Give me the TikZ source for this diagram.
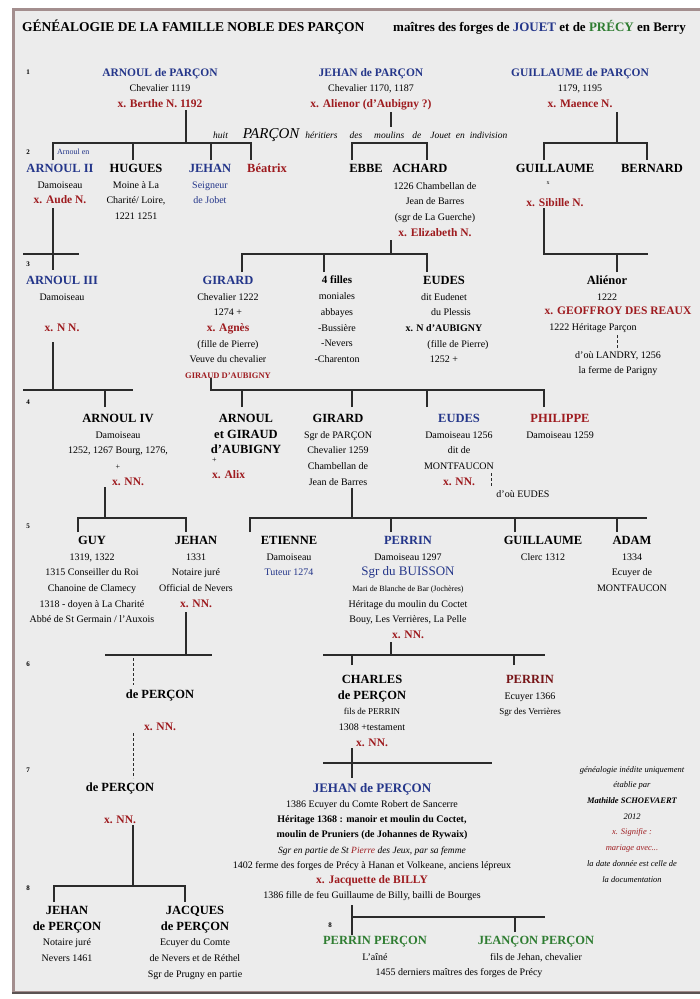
\documentclass[tikz,border=0pt]{standalone}
\usepackage{fontspec}
\setmainfont{Liberation Serif}
\definecolor{nblue}{HTML}{24368A}
\definecolor{nred}{HTML}{9E1B1F}
\definecolor{ngreen}{HTML}{2F7D32}
\definecolor{framec}{HTML}{A38E8E}
\definecolor{bgc}{HTML}{ECECEC}
\definecolor{lnc}{HTML}{2B2B2B}
\newcommand{\nm}[1]{{\fontsize{12.5}{15.7}\selectfont\bfseries #1}}
\newcommand{\nmo}[1]{{\color{nblue}\fontsize{11.5}{15.7}\selectfont\bfseries #1}}
\newcommand{\nmb}[1]{{\color{nblue}\nm{#1}}}
\newcommand{\nmr}[1]{{\color{nred}\nm{#1}}}
\newcommand{\spouse}[1]{{\color{nred}\fontsize{11.5}{15.7}\selectfont\bfseries #1}}
\newcommand{\fs}[2]{{\fontsize{#1}{15.7}\selectfont #2}}
\begin{document}
\begin{tikzpicture}[x=1pt,y=-1pt,
  pn/.style={align=center, anchor=north, inner sep=0pt, font=\fontsize{10}{15.7}\selectfont},
  gl/.style={inner sep=0pt, font=\fontsize{7}{8}\selectfont\bfseries},
  tr/.style={draw=lnc, line width=1.3pt},
  dl/.style={draw=lnc, line width=1pt, dash pattern=on 3pt off 2pt}]
\useasboundingbox (0,0) rectangle (700,999);
\fill[white] (0,0) rectangle (700,999);
\filldraw[fill=bgc, draw=framec, line width=3pt] (13,9) rectangle (712,992);
\draw[draw=lnc!60!framec, line width=2pt] (12,993) -- (712,993);

% header
\node[anchor=west, inner sep=0pt, font=\fontsize{13.5}{15}\selectfont\bfseries] (title) at (22,27) {GÉNÉALOGIE DE LA FAMILLE NOBLE DES PARÇON};
\node[anchor=west, inner sep=0pt, font=\fontsize{13}{15}\selectfont\bfseries] (subtitle) at (393,27) {maîtres des forges de {\color{nblue}JOUET} et de {\color{ngreen}PRÉCY} en Berry};

% generation labels
\node[gl] (gen1) at (28,72) {1};
\node[gl] (gen2) at (28,152) {2};
\node[gl] (gen3) at (28,264) {3};
\node[gl] (gen4) at (28,402) {4};
\node[gl] (gen5) at (28,526) {5};
\node[gl] (gen6) at (28,664) {6};
\node[gl] (gen7) at (28,770) {7};
\node[gl] (gen8) at (28,888) {8};
\node[gl] (gen8b) at (330,925) {8};

% generation 1
\node[pn] (a1) at (160,68) {\nmo{ARNOUL de PARÇON}\\Chevalier 1119\\\spouse{x. Berthe N. 1192}};
\node[pn] (j1) at (371,68) {\nmo{JEHAN de PARÇON}\\Chevalier 1170, 1187\\\spouse{x. Alienor (d'Aubigny ?)}};
\node[pn] (g1) at (580,68) {\nmo{GUILLAUME de PARÇON}\\1179, 1195\\\spouse{x. Maence N.}};

\node[anchor=west, inner sep=0pt, font=\fontsize{9.5}{12}\selectfont\itshape] (hoirs) at (213,135)
  {huit\hspace{15pt}{\fontsize{15}{15}\selectfont PARÇON}\hspace{6pt}héritiers\hspace{12pt}des\hspace{12pt}moulins\hspace{8pt}de\hspace{9pt}Jouet\hspace{5pt}en\hspace{5pt}indivision};
\node[anchor=west, inner sep=0pt, font=\fontsize{8}{9}\selectfont, text=nblue] (arnen) at (57,152) {Arnoul en};

% generation 2
\node[pn] (a2) at (60,164) {\nmb{ARNOUL II}\\Damoiseau\\\spouse{x. Aude N.}};
\node[pn] (hugues) at (136,164) {\nm{HUGUES}\\Moine à La\\Charité/ Loire,\\1221 1251};
\node[pn, text=nblue] (jehan2) at (210,164) {\nm{JEHAN}\\Seigneur\\de Jobet};
\node[pn] (beatrix) at (267,164) {\nmr{Béatrix}};
\node[pn] (ebbe) at (366,164) {\nm{EBBE}};
\node[pn] (achard) at (420,164) {\nm{ACHARD}};
\node[pn] (achardd) at (435,182) {1226 Chambellan de\\Jean de Barres\\(sgr de La Guerche)\\\spouse{x. Elizabeth N.}};
\node[pn] (guil2) at (555,164) {\nm{GUILLAUME}};
\node[inner sep=0pt, font=\fontsize{6}{7}\selectfont] (guilx) at (548,183) {x};
\node[pn] (sibille) at (555,198) {\spouse{x. Sibille N.}};
\node[pn] (bernard) at (652,164) {\nm{BERNARD}};

% generation 3
\node[pn] (a3) at (62,276) {\nmb{ARNOUL III}\\Damoiseau\\[15.7pt]\spouse{x. N N.}};
\node[pn] (girard3) at (228,276) {\nmb{GIRARD}\\Chevalier 1222\\1274 +\\\spouse{x. Agnès}\\(fille de Pierre)\\Veuve du chevalier\\{\color{nred}\fontsize{8.5}{15.7}\selectfont\bfseries GIRAUD D'AUBIGNY}};
\node[pn] (filles) at (337,276) {\fs{11}{\bfseries 4 filles}\\moniales\\abbayes\\-Bussière\\-Nevers\\-Charenton};
\node[pn] (eudes3) at (444,276) {\nm{EUDES}\\dit Eudenet\\\hspace{14pt}du Plessis\\{\bfseries x. N d'AUBIGNY}\\\hspace{28pt}(fille de Pierre)\\1252 +};
\node[pn] (alienor) at (607,276) {\nm{Aliénor}\\1222};
\node[pn] (geoffroy) at (618,307) {\spouse{x. GEOFFROY DES REAUX}};
\node[pn] (heritp) at (593,323) {1222 Héritage Parçon};
\node[pn] (landry) at (618,351) {d'où LANDRY, 1256\\la ferme de Parigny};

% generation 4
\node[pn] (arnoul4) at (118,414) {\nm{ARNOUL IV}\\Damoiseau\\1252, 1267 Bourg, 1276,\\\fs{8}{+}\\\hspace{20pt}\spouse{x. NN.}};
\node[pn] (arnoul4b) at (246,414) {\nm{ARNOUL}\\\nm{et GIRAUD}\\\nm{d'AUBIGNY}};
\node[align=left, anchor=north west, inner sep=0pt, font=\fontsize{10}{15.7}\selectfont] (alix) at (212,458) {\fs{8}{+}\\\spouse{x. Alix}};
\node[pn] (girard4) at (338,414) {\nm{GIRARD}\\Sgr de PARÇON\\Chevalier 1259\\Chambellan de\\Jean de Barres};
\node[pn] (eudes4) at (459,414) {\nmb{EUDES}\\Damoiseau 1256\\dit de\\MONTFAUCON\\\spouse{x. NN.}};
\node[pn] (doueudes) at (523,490) {d'où EUDES};
\node[pn] (philippe) at (560,414) {\nmr{PHILIPPE}\\Damoiseau 1259};

% generation 5
\node[pn] (guy) at (92,536) {\nm{GUY}\\1319, 1322\\1315 Conseiller du Roi\\Chanoine de Clamecy\\1318 - doyen à La Charité\\Abbé de St Germain / l'Auxois};
\node[pn] (jehan5) at (196,536) {\nm{JEHAN}\\1331\\Notaire juré\\Official de Nevers\\\spouse{x. NN.}};
\node[pn] (etienne) at (289,536) {\nm{ETIENNE}\\Damoiseau\\{\color{nblue}Tuteur 1274}};
\node[pn] (perrin5) at (408,536) {\nmb{PERRIN}\\Damoiseau 1297\\{\color{nblue}\fontsize{13}{15.7}\selectfont Sgr du BUISSON}\\\fs{8}{Mari de Blanche de Bar (Jochères)}\\Héritage du moulin du Coctet\\Bouy, Les Verrières, La Pelle\\\spouse{x. NN.}};
\node[pn] (guil5) at (543,536) {\nm{GUILLAUME}\\Clerc 1312};
\node[pn] (adam) at (632,536) {\nm{ADAM}\\1334\\Ecuyer de\\MONTFAUCON};

% generation 6
\node[pn] (percon6) at (160,690) {\nm{de PERÇON}\\[15.7pt]\spouse{x. NN.}};
\node[pn] (charles) at (372,675) {\nm{CHARLES}\\\nm{de PERÇON}\\\fs{9}{fils de PERRIN}\\1308 +testament\\\spouse{x. NN.}};
\node[pn] (perrin6) at (530,675) {{\color{nred!75!black}\nm{PERRIN}}\\Ecuyer 1366\\\fs{9}{Sgr des Verrières}};

% generation 7
\node[pn] (percon7) at (120,783) {\nm{de PERÇON}\\[15.7pt]\spouse{x. NN.}};
\node[pn, font=\fontsize{10}{15.2}\selectfont] (jehan7) at (372,783) {{\color{nblue}\fontsize{13}{15.2}\selectfont\bfseries JEHAN de PERÇON}\\1386 Ecuyer du Comte Robert de Sancerre\\{\bfseries Héritage 1368 : manoir et moulin du Coctet,}\\{\bfseries moulin de Pruniers (de Johannes de Rywaix)}\\\fs{9.5}{\itshape Sgr en partie de St {\color{nred}Pierre} des Jeux, par sa femme}\\1402 ferme des forges de Précy à Hanan et Volkeane, anciens lépreux\\\spouse{x. Jacquette de BILLY}\\1386 fille de feu Guillaume de Billy, bailli de Bourges};
\node[pn, font=\fontsize{8.5}{15.7}\selectfont\itshape] (note) at (632,766) {généalogie inédite uniquement\\établie par\\{\bfseries Mathilde SCHOEVAERT}\\2012\\{\color{nred}x. Signifie :}\\{\color{nred}mariage avec...}\\la date donnée est celle de\\la documentation};

% generation 8
\node[pn] (jehan8) at (67,906) {\nm{JEHAN}\\\nm{de PERÇON}\\Notaire juré\\Nevers 1461};
\node[pn] (jacques) at (195,906) {\nm{JACQUES}\\\nm{de PERÇON}\\Ecuyer du Comte\\de Nevers et de Réthel\\Sgr de Prugny en partie};
\node[pn] (perrinp) at (375,936) {{\color{ngreen}\nm{PERRIN PERÇON}}\\L'aîné};
\node[pn] (jeancon) at (536,936) {{\color{ngreen}\nm{JEANÇON PERÇON}}\\fils de Jehan, chevalier};
\node[pn] (derniers) at (459,968) {1455 derniers maîtres des forges de Précy};

% ---------------- connectors
% family of Arnoul (gen 1)
\coordinate (a1s) at (186,110);
\coordinate (b1L) at (53,143); \coordinate (b1R) at (251,143);
\coordinate (c11) at (53,160); \coordinate (c12) at (133,160);
\coordinate (c13) at (211,160); \coordinate (c14) at (251,160);
\draw[tr] (a1s) -- (a1s |- b1L);
\draw[tr] (c11) -- (b1L) -- (b1R) -- (c14);
\draw[tr] (c12) -- (c12 |- b1L);
\draw[tr] (c13) -- (c13 |- b1L);
% family of Jehan (gen 1)
\coordinate (j1s) at (391,112); \coordinate (j1e) at (391,127);
\coordinate (b2L) at (352,143); \coordinate (b2R) at (427,143);
\coordinate (c21) at (352,160); \coordinate (c22) at (427,160);
\draw[tr] (j1s) -- (j1e);
\draw[tr] (c21) -- (b2L) -- (b2R) -- (c22);
% family of Guillaume (gen 1)
\coordinate (g1s) at (617,112);
\coordinate (b3L) at (544,143); \coordinate (b3R) at (647,143);
\coordinate (c31) at (544,160); \coordinate (c32) at (647,160);
\draw[tr] (g1s) -- (g1s |- b3L);
\draw[tr] (c31) -- (b3L) -- (b3R) -- (c32);
% Arnoul II
\coordinate (a2s) at (53,208); \coordinate (a2e) at (53,270);
\coordinate (b4L) at (23,254); \coordinate (b4R) at (79,254);
\draw[tr] (a2s) -- (a2e);
\draw[tr] (b4L) -- (b4R);
% Arnoul III
\coordinate (a3s) at (53,342);
\coordinate (b5L) at (23,390); \coordinate (b5R) at (133,390);
\coordinate (c51) at (105,407);
\draw[tr] (a3s) -- (a3s |- b5L);
\draw[tr] (b5L) -- (b5R);
\draw[tr] (c51) -- (c51 |- b5L);
% Achard
\coordinate (acs) at (391,240);
\coordinate (b6L) at (242,254); \coordinate (b6R) at (427,254);
\coordinate (c61) at (242,272); \coordinate (c62) at (324,272); \coordinate (c63) at (427,272);
\draw[tr] (acs) -- (acs |- b6L);
\draw[tr] (c61) -- (b6L) -- (b6R) -- (c63);
\draw[tr] (c62) -- (c62 |- b6L);
% Guillaume (gen 2)
\coordinate (g2s) at (544,208); \coordinate (b7R) at (648,254);
\coordinate (c71) at (617,272);
\draw[tr] (g2s) |- (b7R);
\draw[tr] (c71) -- (c71 |- b7R);
\coordinate (al1) at (617,335); \coordinate (al2) at (617,350);
\draw[dl] (al1) -- (al2);
% Girard (gen 3)
\coordinate (gi3s) at (211,378); \coordinate (b8R) at (545,390);
\coordinate (c81) at (242,407); \coordinate (c82) at (352,407);
\coordinate (c83) at (427,407); \coordinate (c84) at (544,407);
\draw[tr] (gi3s) |- (b8R);
\foreach \c in {c81,c82,c83,c84} \draw[tr] (\c) -- (\c |- b8R);
\coordinate (eu1) at (491,473); \coordinate (eu2) at (491,487);
\draw[dl] (eu1) -- (eu2);
% Arnoul IV
\coordinate (ar4s) at (105,487);
\coordinate (b9L) at (78,518); \coordinate (b9R) at (186,518);
\coordinate (c91) at (78,532); \coordinate (c92) at (186,532);
\draw[tr] (ar4s) -- (ar4s |- b9L);
\draw[tr] (c91) -- (b9L) -- (b9R) -- (c92);
% Girard (gen 4)
\coordinate (gi4s) at (352,488);
\coordinate (b10L) at (250,518); \coordinate (b10R) at (647,518);
\coordinate (c101) at (250,532); \coordinate (c102) at (391,532);
\coordinate (c103) at (515,532); \coordinate (c104) at (617,532);
\draw[tr] (gi4s) -- (gi4s |- b10L);
\draw[tr] (c101) -- (b10L) -- (b10R);
\foreach \c in {c102,c103,c104} \draw[tr] (\c) -- (\c |- b10R);
% Jehan (gen 5)
\coordinate (je5s) at (186,612);
\coordinate (b11L) at (105,655); \coordinate (b11R) at (212,655);
\coordinate (d111) at (133,658); \coordinate (d112) at (133,685);
\coordinate (d121) at (133,733); \coordinate (d122) at (133,778);
\draw[tr] (je5s) -- (je5s |- b11L);
\draw[tr] (b11L) -- (b11R);
\draw[dl] (d111) -- (d112);
\draw[dl] (d121) -- (d122);
% Perrin (gen 5)
\coordinate (pe5s) at (391,642);
\coordinate (b13L) at (323,655); \coordinate (b13R) at (545,655);
\coordinate (c131) at (352,665); \coordinate (c132) at (514,665);
\draw[tr] (pe5s) -- (pe5s |- b13L);
\draw[tr] (b13L) -- (b13R);
\draw[tr] (c131) -- (c131 |- b13L);
\draw[tr] (c132) -- (c132 |- b13L);
% Charles
\coordinate (chs) at (352,748); \coordinate (che) at (352,778);
\coordinate (b14L) at (323,763); \coordinate (b14R) at (492,763);
\draw[tr] (chs) -- (che);
\draw[tr] (b14L) -- (b14R);
% de Perçon (gen 7)
\coordinate (pcs) at (133,825);
\coordinate (b15L) at (54,886); \coordinate (b15R) at (185,886);
\coordinate (c151) at (54,902); \coordinate (c152) at (185,902);
\draw[tr] (pcs) -- (pcs |- b15L);
\draw[tr] (c151) -- (b15L) -- (b15R) -- (c152);
% Jehan de Perçon (gen 7)
\coordinate (je7s) at (352,905); \coordinate (je7e) at (352,935);
\coordinate (b16R) at (545,917); \coordinate (c161) at (515,932);
\draw[tr] (je7s) -- (je7e);
\draw[tr] (je7s |- b16R) -- (b16R);
\draw[tr] (c161) -- (c161 |- b16R);
\end{tikzpicture}
\end{document}
